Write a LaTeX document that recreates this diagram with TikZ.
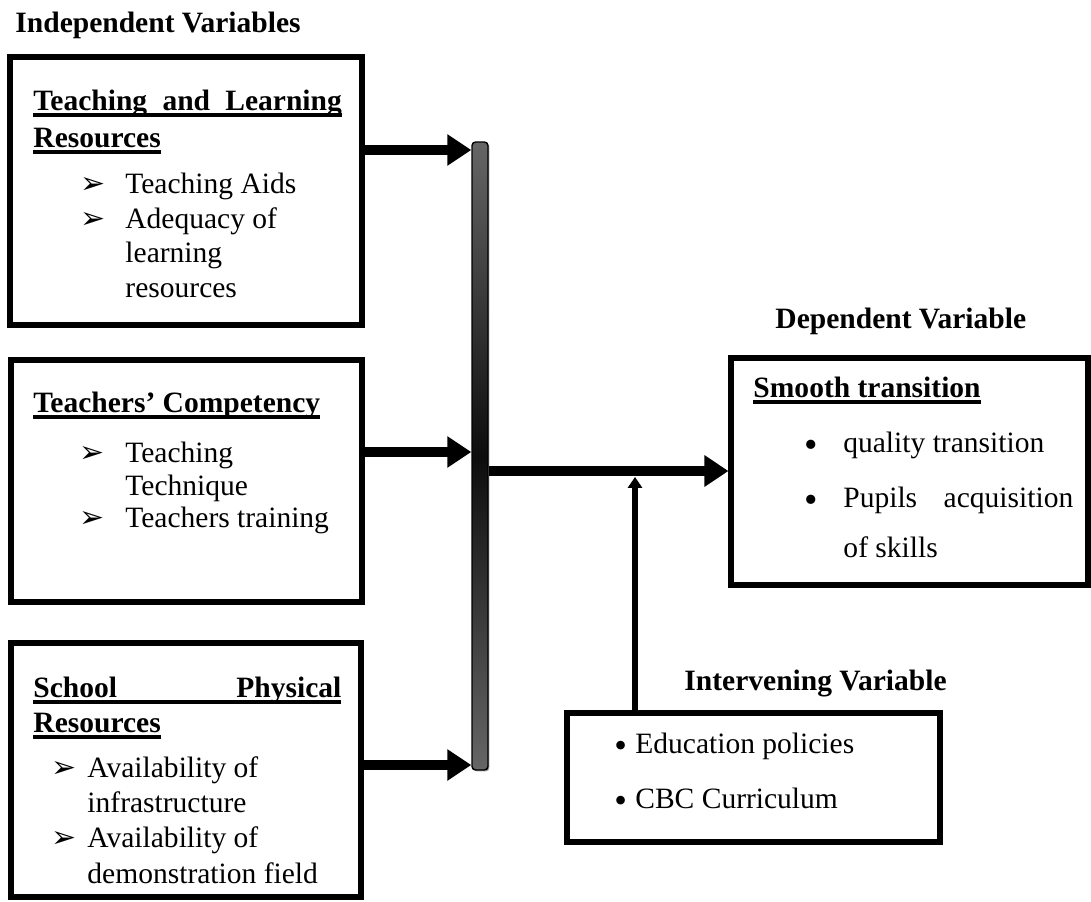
\documentclass[tikz,border=0pt]{standalone}
\usepackage{fontspec}
\setmainfont{Liberation Serif}
\newfontfamily\dejavu{DejaVu Sans}
\usetikzlibrary{positioning,arrows.meta,fit,shadows}

% bold heading with a heavy underline
\newcommand\ulb[1]{\setbox0\hbox{\bfseries #1}\rlap{\rule[-2.9pt]{\wd0}{1.6pt}}\box0}
\newcommand\arrb[1]{\makebox[#1][l]{\dejavu\fontsize{12.5}{12.5}\selectfont ➢}}
\newcommand\dotb[3]{\makebox[#1][l]{\raisebox{#3}{\fontsize{#2}{#2}\selectfont •}}}

\tikzset{
  varbox/.style={draw,line width=2.1pt,inner sep=0pt},
  lbl/.style={anchor=base west,inner sep=0pt,font=\fontsize{12.3}{14}\selectfont},
  thickarrow/.style={line width=4.4pt,-{Triangle[length=10pt,width=12.5pt]}},
  thinarrow/.style={line width=2.3pt,-{Triangle[length=4.5pt,width=5.8pt]}}
}

\begin{document}
\begin{tikzpicture}[x=0.41667pt,y=-0.41667pt]
  \useasboundingbox (0,0) rectangle (1091,901);

  % boxes
  \node[varbox,fit={(10,57) (362,325)}] (tlr) {};
  \node[varbox,fit={(11,360) (362,602)}] (tc) {};
  \node[varbox,fit={(11,643) (361,897)}] (spr) {};
  \node[varbox,fit={(731,358) (1088,585)}] (smooth) {};
  \node[varbox,fit={(567,713) (940,842)}] (interv) {};

  % the collecting bar
  \node[fit={(472,142) (488,770)},inner sep=0pt,draw=black,line width=0.6pt,
        rounded corners=1.5pt,top color=black!60,bottom color=black!60,middle color=black!95,
        drop shadow={shadow xshift=0.6pt,shadow yshift=-0.6pt,fill=black!35,opacity=1}] (bar) {};

  % headings
  \node[lbl,font=\fontsize{12.3}{14}\selectfont\bfseries] (indep) at (15,32) {Independent Variables};
  \node[lbl,font=\fontsize{12.3}{14}\selectfont\bfseries] (dep) at (775,328) {Dependent Variable};
  \node[lbl,font=\fontsize{12.3}{14}\selectfont\bfseries] (intv) at (684,690) {Intervening Variable};

  % box contents
  \foreach \x/\y/\t [count=\i] in {
      33/110/{\ulb{\makebox[128.5pt][s]{Teaching and Learning}}},
      33/147/{\ulb{Resources}},
      80/193/{\arrb{18.7pt}Teaching Aids},
      80/228/{\arrb{18.7pt}Adequacy of},
      125/262/{learning},
      125/297/{resources}}
    \node[lbl] (tlr-\i) at (\x,\y) {\t};
  \foreach \x/\y/\t [count=\i] in {
      33/412/{\ulb{Teachers’ Competency}},
      79/462/{\arrb{19.1pt}Teaching},
      125/495/{Technique},
      79/527/{\arrb{19.1pt}Teachers training}}
    \node[lbl] (tc-\i) at (\x,\y) {\t};
  \foreach \x/\y/\t [count=\i] in {
      33/697/{\ulb{\makebox[128.3pt][s]{School Physical}}},
      33/732/{\ulb{Resources}},
      51/777/{\arrb{15pt}Availability of},
      87/812/{infrastructure},
      51/847/{\arrb{15pt}Availability of},
      87/883/{demonstration field}}
    \node[lbl] (spr-\i) at (\x,\y) {\t};
  \foreach \x/\y/\t [count=\i] in {
      753/397/{\ulb{Smooth transition}},
      804/452/{\dotb{16.2pt}{16}{-2.4pt}quality transition},
      804/507/{\dotb{16.2pt}{16}{-2.4pt}\makebox[95.8pt][s]{Pupils acquisition}},
      843/557/{of skills}}
    \node[lbl] (smooth-\i) at (\x,\y) {\t};
  \foreach \x/\y/\t [count=\i] in {
      614/753/{\dotb{8.7pt}{15}{-2pt}Education policies},
      614/808/{\dotb{8.7pt}{15}{-2pt}CBC Curriculum}}
    \node[lbl] (interv-\i) at (\x,\y) {\t};

  % connectors
  \draw[thickarrow] (tlr.east |- 0,150) -- (bar.west |- 0,150);
  \draw[thickarrow] (tc.east |- 0,452) -- (bar.west |- 0,452);
  \draw[thickarrow] (spr.east |- 0,765) -- (bar.west |- 0,765);
  \draw[thickarrow] (bar.east |- 0,471) -- (smooth.west |- 0,471);
  \coordinate (join) at (635,477);
  \draw[thinarrow] (interv.north -| join) -- (join);
\end{tikzpicture}
\end{document}
